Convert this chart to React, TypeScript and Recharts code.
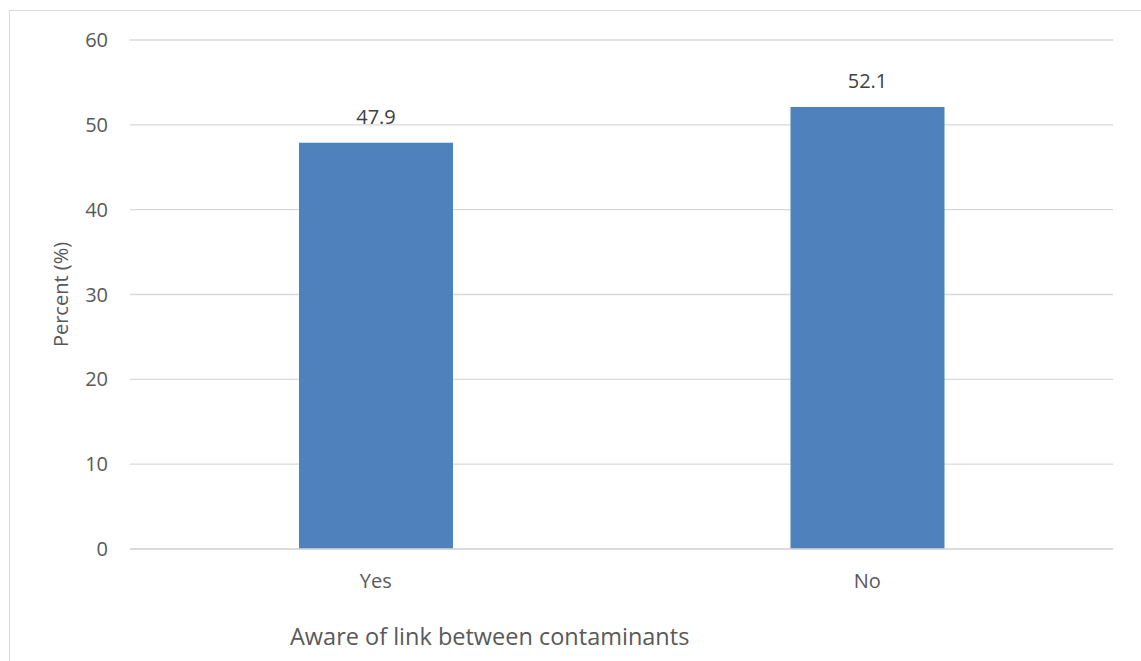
import React from "react";
import {
  BarChart,
  Bar,
  XAxis,
  YAxis,
  CartesianGrid,
  LabelList
} from "recharts";

const categories = ["Yes", "No"];
const percents = [47.9, 52.1];
const yTicks = [0, 10, 20, 30, 40, 50, 60];

const data = categories.map((name, i) => ({ name, value: percents[i] }));

const FONT = "'Open Sans', sans-serif";
const TEXT = "#595959";

const App = () => {
  return (
    <div
      style={{
        position: "absolute",
        left: 0,
        top: 0,
        width: 1141,
        height: 661,
        overflow: "hidden",
        background: "#fff",
        fontFamily: FONT
      }}
    >
      {/* chart frame, runs off the right and bottom edges */}
      <div
        style={{
          position: "absolute",
          left: 9,
          top: 10,
          width: 1160,
          height: 680,
          border: "1.5px solid #d9d9d9",
          boxSizing: "border-box"
        }}
      />
      <div style={{ position: "absolute", left: 0, top: 0 }}>
        <BarChart
          width={1141}
          height={661}
          data={data}
          margin={{ top: 40, right: 28, left: 70, bottom: 72 }}
          barCategoryGap={0}
        >
          <CartesianGrid vertical={false} stroke="#d9d9d9" strokeWidth={1.3} />
          <XAxis
            dataKey="name"
            axisLine={{ stroke: "#d9d9d9", strokeWidth: 1.3 }}
            tickLine={false}
            tickSize={0}
            tickMargin={25}
            height={40}
            tick={{ fill: TEXT, fontSize: 20, fontFamily: FONT }}
          />
          <YAxis
            width={60}
            domain={[0, 60]}
            ticks={yTicks}
            axisLine={false}
            tickLine={false}
            tickSize={0}
            tickMargin={22}
            tick={{ fill: TEXT, fontSize: 20, fontFamily: FONT }}
            label={{
              value: "Percent (%)",
              angle: -90,
              position: "insideLeft",
              dx: -14,
              style: {
                textAnchor: "middle",
                fill: TEXT,
                fontSize: 20,
                fontFamily: FONT
              }
            }}
          />
          <Bar
            dataKey="value"
            fill="#4f81bd"
            barSize={154}
            isAnimationActive={false}
          >
            <LabelList
              dataKey="value"
              position="top"
              offset={19}
              style={{ fill: "#404040", fontSize: 20, fontFamily: FONT }}
            />
          </Bar>
        </BarChart>
      </div>
      <div
        style={{
          position: "absolute",
          left: 290,
          top: 620,
          fontSize: 23.5,
          lineHeight: "32px",
          color: TEXT,
          whiteSpace: "nowrap"
        }}
      >
        Aware of link between contaminants
      </div>
    </div>
  );
};

export default App;
